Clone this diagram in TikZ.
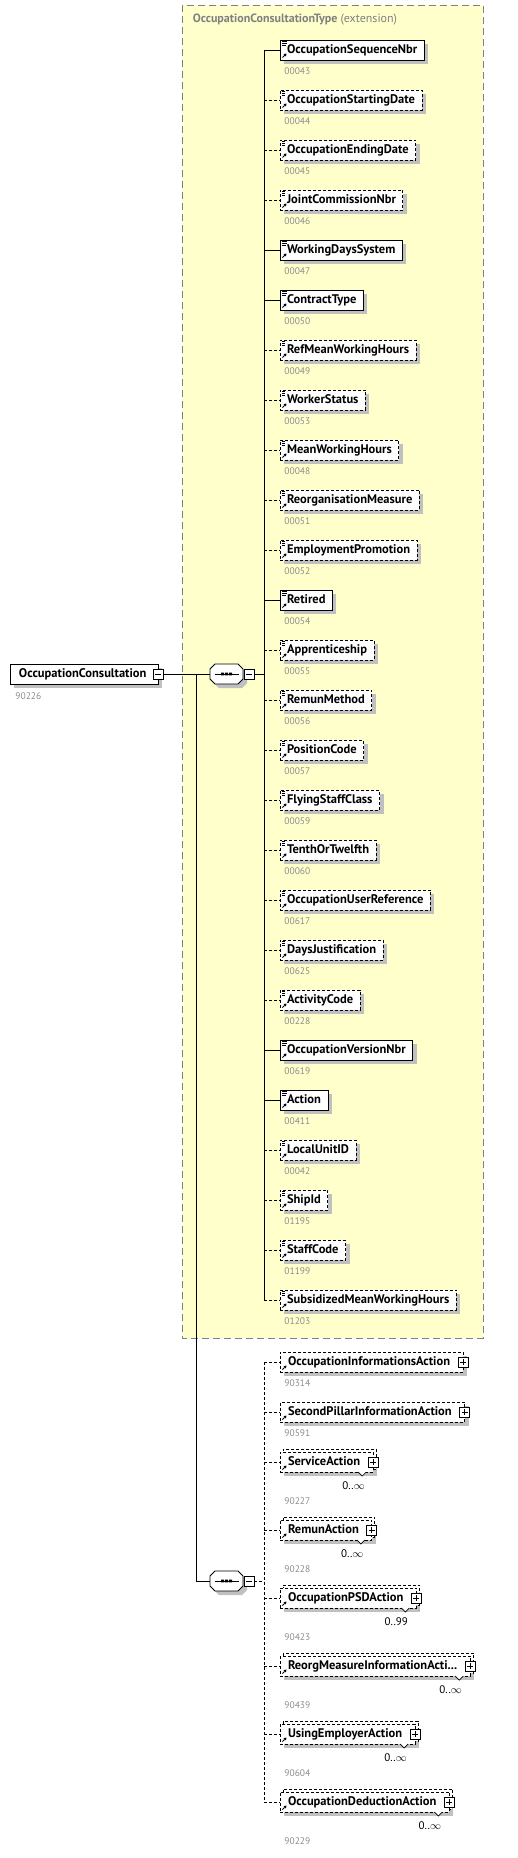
\documentclass[tikz,border=0pt]{standalone}
\usepackage{fontspec}
\setmainfont{PT Sans}
\usetikzlibrary{arrows.meta, positioning, shadows}

\definecolor{extfill}{RGB}{255,255,204}
\definecolor{extline}{RGB}{128,128,128}
\definecolor{shadowgray}{RGB}{192,192,192}
\definecolor{idgray}{RGB}{140,140,140}

\begin{document}
\begin{tikzpicture}[
    x=1pt, y=1pt, line width=0.9pt,
    font=\fontsize{12.5}{14}\selectfont\bfseries,
    boxshadow/.style={drop shadow={shadow xshift=4pt, shadow yshift=-4pt,
        fill=shadowgray, opacity=1}},
    elem/.style={
        draw, fill=white, boxshadow, anchor=west,
        minimum height=20pt, inner xsep=7pt, inner ysep=0pt, outer sep=0pt,
        text height=9pt, text depth=3pt
    },
    opt/.style={dash pattern=on 3pt off 2pt},
    multi/.style={copy shadow={shadow xshift=3pt, shadow yshift=3pt,
        draw=black, fill=white, dash pattern=on 3pt off 2pt}},
    docs/.style={path picture={
        \draw[line width=.7pt]
            ([shift={(2,-1.5)}]path picture bounding box.north west) -- ++(5,0)
            ([shift={(2,-3.5)}]path picture bounding box.north west) -- ++(5,0)
            ([shift={(2,-5.5)}]path picture bounding box.north west) -- ++(4,0);
        \draw[-{Triangle[length=2.5pt, width=3pt]}, line width=.9pt]
            ([shift={(2.5,2.5)}]path picture bounding box.south west) -- ++(4,4);
    }},
    ref/.style={path picture={
        \draw[-{Triangle[length=2.5pt, width=3pt]}, line width=.9pt]
            ([shift={(2.5,2.5)}]path picture bounding box.south west) -- ++(4,4);
    }},
    idnum/.style={font=\fontsize{9.5}{10}\selectfont\mdseries, text=idgray,
        inner sep=0pt, anchor=west},
    card/.style={font=\fontsize{11}{12}\selectfont\mdseries,
        inner sep=0pt, anchor=east},
    notch/.style={fill=white, line width=.7pt},
    pmbtn/.style={draw, fill=white, line width=.8pt, minimum size=10pt,
        inner sep=0pt, outer sep=0pt},
    minusbtn/.style={pmbtn, path picture={\draw[line width=.8pt]
        ([xshift=2pt]path picture bounding box.west) --
        ([xshift=-2pt]path picture bounding box.east);}},
    plusbtn/.style={pmbtn, path picture={\draw[line width=.8pt]
        ([xshift=2pt]path picture bounding box.west) --
        ([xshift=-2pt]path picture bounding box.east)
        ([yshift=-2pt]path picture bounding box.north) --
        ([yshift=2pt]path picture bounding box.south);}},
    seqnode/.style={minimum width=33pt, minimum height=20pt, inner sep=0pt, outer sep=0pt},
    seqframe/.style={draw, fill=white, boxshadow, line width=.9pt},
    seqline/.style={line width=.9pt}
]
\useasboundingbox (0,0) rectangle (517,-1858);

% -- extension area --
\draw[fill=extfill, draw=extline, line width=.8pt, dash pattern=on 7pt off 4pt]
    (182,-5) rectangle (483,-1338);
\node[anchor=west, text=extline, font=\fontsize{12}{13}\selectfont] (exttitle)
    at (189,-20) {\textbf{OccupationConsultationType} (extension)};

% -- root element and compositors --
\node[elem, inner xsep=9pt] (occcons) at (10,-674) {OccupationConsultation\hspace*{3pt}};
\node[minusbtn] (occmin) at (occcons.east) {};
\node[idnum] (occid) at ([shift={(5,-12)}]occcons.south west) {90226};

\node[seqnode] (seq1) at (226.5,-674) {};
\draw[seqframe] ([xshift=5pt]seq1.north west) -- ++(23,0) -- ++(5,-5) -- ++(0,-10)
    -- ++(-5,-5) -- ++(-23,0) -- ++(-5,5) -- ++(0,10) -- cycle;
\draw[seqline] ([xshift=-12pt]seq1.center) -- ([xshift=12pt]seq1.center);
\fill ([shift={(-5.3,-1.4)}]seq1.center) rectangle ++(2.8,2.8) ++(1.2,-2.8)
    rectangle ++(2.8,2.8) ++(1.2,-2.8) rectangle ++(2.8,2.8);
\node[minusbtn, right=1pt of seq1] (seq1min) {};

\node[seqnode] (seq2) at (226.5,-1581) {};
\draw[seqframe] ([xshift=5pt]seq2.north west) -- ++(23,0) -- ++(5,-5) -- ++(0,-10)
    -- ++(-5,-5) -- ++(-23,0) -- ++(-5,5) -- ++(0,10) -- cycle;
\draw[seqline] ([xshift=-12pt]seq2.center) -- ([xshift=12pt]seq2.center);
\fill ([shift={(-5.3,-1.4)}]seq2.center) rectangle ++(2.8,2.8) ++(1.2,-2.8)
    rectangle ++(2.8,2.8) ++(1.2,-2.8) rectangle ++(2.8,2.8);
\node[minusbtn, right=1pt of seq2] (seq2min) {};

\coordinate (branch) at (196,-674);
\coordinate (trunkA) at (264,-674);
\coordinate (trunkB) at (264,-1581);

% -- children of the extension --
\node[elem, docs] (e1) at (280,-50) {OccupationSequenceNbr};
\node[elem, opt, docs, below=30pt of e1.south west, anchor=north west] (e2) {OccupationStartingDate};
\node[elem, opt, docs, below=30pt of e2.south west, anchor=north west] (e3) {OccupationEndingDate};
\node[elem, opt, docs, below=30pt of e3.south west, anchor=north west] (e4) {JointCommissionNbr};
\node[elem, docs, below=30pt of e4.south west, anchor=north west] (e5) {WorkingDaysSystem};
\node[elem, docs, below=30pt of e5.south west, anchor=north west] (e6) {ContractType};
\node[elem, opt, docs, below=30pt of e6.south west, anchor=north west] (e7) {RefMeanWorkingHours};
\node[elem, opt, docs, below=30pt of e7.south west, anchor=north west] (e8) {WorkerStatus};
\node[elem, opt, docs, below=30pt of e8.south west, anchor=north west] (e9) {MeanWorkingHours};
\node[elem, opt, docs, below=30pt of e9.south west, anchor=north west] (e10) {ReorganisationMeasure};
\node[elem, opt, docs, below=30pt of e10.south west, anchor=north west] (e11) {EmploymentPromotion};
\node[elem, docs, below=30pt of e11.south west, anchor=north west] (e12) {Retired};
\node[elem, opt, docs, below=30pt of e12.south west, anchor=north west] (e13) {Apprenticeship};
\node[elem, opt, docs, below=30pt of e13.south west, anchor=north west] (e14) {RemunMethod};
\node[elem, opt, docs, below=30pt of e14.south west, anchor=north west] (e15) {PositionCode};
\node[elem, opt, docs, below=30pt of e15.south west, anchor=north west] (e16) {FlyingStaffClass};
\node[elem, opt, docs, below=30pt of e16.south west, anchor=north west] (e17) {TenthOrTwelfth};
\node[elem, opt, docs, below=30pt of e17.south west, anchor=north west] (e18) {OccupationUserReference};
\node[elem, opt, docs, below=30pt of e18.south west, anchor=north west] (e19) {DaysJustification};
\node[elem, opt, docs, below=30pt of e19.south west, anchor=north west] (e20) {ActivityCode};
\node[elem, docs, below=30pt of e20.south west, anchor=north west] (e21) {OccupationVersionNbr};
\node[elem, docs, below=30pt of e21.south west, anchor=north west] (e22) {Action};
\node[elem, opt, docs, below=30pt of e22.south west, anchor=north west] (e23) {LocalUnitID};
\node[elem, opt, docs, below=30pt of e23.south west, anchor=north west] (e24) {ShipId};
\node[elem, opt, docs, below=30pt of e24.south west, anchor=north west] (e25) {StaffCode};
\node[elem, opt, docs, below=30pt of e25.south west, anchor=north west] (e26) {SubsidizedMeanWorkingHours};

\node[idnum] (i1) at ([shift={(4,-11)}]e1.south west) {00043};
\node[idnum] (i2) at ([shift={(4,-11)}]e2.south west) {00044};
\node[idnum] (i3) at ([shift={(4,-11)}]e3.south west) {00045};
\node[idnum] (i4) at ([shift={(4,-11)}]e4.south west) {00046};
\node[idnum] (i5) at ([shift={(4,-11)}]e5.south west) {00047};
\node[idnum] (i6) at ([shift={(4,-11)}]e6.south west) {00050};
\node[idnum] (i7) at ([shift={(4,-11)}]e7.south west) {00049};
\node[idnum] (i8) at ([shift={(4,-11)}]e8.south west) {00053};
\node[idnum] (i9) at ([shift={(4,-11)}]e9.south west) {00048};
\node[idnum] (i10) at ([shift={(4,-11)}]e10.south west) {00051};
\node[idnum] (i11) at ([shift={(4,-11)}]e11.south west) {00052};
\node[idnum] (i12) at ([shift={(4,-11)}]e12.south west) {00054};
\node[idnum] (i13) at ([shift={(4,-11)}]e13.south west) {00055};
\node[idnum] (i14) at ([shift={(4,-11)}]e14.south west) {00056};
\node[idnum] (i15) at ([shift={(4,-11)}]e15.south west) {00057};
\node[idnum] (i16) at ([shift={(4,-11)}]e16.south west) {00059};
\node[idnum] (i17) at ([shift={(4,-11)}]e17.south west) {00060};
\node[idnum] (i18) at ([shift={(4,-11)}]e18.south west) {00617};
\node[idnum] (i19) at ([shift={(4,-11)}]e19.south west) {00625};
\node[idnum] (i20) at ([shift={(4,-11)}]e20.south west) {00228};
\node[idnum] (i21) at ([shift={(4,-11)}]e21.south west) {00619};
\node[idnum] (i22) at ([shift={(4,-11)}]e22.south west) {00411};
\node[idnum] (i23) at ([shift={(4,-11)}]e23.south west) {00042};
\node[idnum] (i24) at ([shift={(4,-11)}]e24.south west) {01195};
\node[idnum] (i25) at ([shift={(4,-11)}]e25.south west) {01199};
\node[idnum] (i26) at ([shift={(4,-11)}]e26.south west) {01203};

% -- optional actions --
\node[elem, opt, ref, inner xsep=8pt] (a1) at (280,-1362) {OccupationInformationsAction\hspace*{5pt}};
\node[elem, opt, ref, inner xsep=8pt, below=30pt of a1.south west, anchor=north west] (a2) {SecondPillarInformationAction\hspace*{5pt}};
\node[elem, opt, ref, multi, inner xsep=8pt, below=30pt of a2.south west, anchor=north west] (a3) {ServiceAction\hspace*{5pt}};
\node[elem, opt, ref, multi, inner xsep=8pt, below=48pt of a3.south west, anchor=north west] (a4) {RemunAction\hspace*{5pt}};
\node[elem, opt, ref, multi, inner xsep=8pt, below=48pt of a4.south west, anchor=north west] (a5) {OccupationPSDAction\hspace*{5pt}};
\node[elem, opt, ref, multi, inner xsep=8pt, below=48pt of a5.south west, anchor=north west] (a6) {ReorgMeasureInformationActi...\hspace*{5pt}};
\node[elem, opt, ref, multi, inner xsep=8pt, below=48pt of a6.south west, anchor=north west] (a7) {UsingEmployerAction\hspace*{5pt}};
\node[elem, opt, ref, multi, inner xsep=8pt, below=48pt of a7.south west, anchor=north west] (a8) {OccupationDeductionAction\hspace*{5pt}};

\node[plusbtn] (a1p) at (a1.east) {};
\node[plusbtn] (a2p) at (a2.east) {};
\node[plusbtn] (a3p) at (a3.east) {};
\node[plusbtn] (a4p) at (a4.east) {};
\node[plusbtn] (a5p) at (a5.east) {};
\node[plusbtn] (a6p) at (a6.east) {};
\node[plusbtn] (a7p) at (a7.east) {};
\node[plusbtn] (a8p) at (a8.east) {};

\draw[notch] ([xshift=-15pt]a3.south east) -- ++(4,-4) -- ++(4,4);
\draw[notch] ([xshift=-15pt]a4.south east) -- ++(4,-4) -- ++(4,4);
\draw[notch] ([xshift=-15pt]a5.south east) -- ++(4,-4) -- ++(4,4);
\draw[notch] ([xshift=-15pt]a6.south east) -- ++(4,-4) -- ++(4,4);
\draw[notch] ([xshift=-15pt]a7.south east) -- ++(4,-4) -- ++(4,4);
\draw[notch] ([xshift=-15pt]a8.south east) -- ++(4,-4) -- ++(4,4);

\node[card] (a3m) at ([shift={(-8,-13.5)}]a3.south east) {0..$\infty$};
\node[card] (a4m) at ([shift={(-8,-13.5)}]a4.south east) {0..$\infty$};
\node[card] (a5m) at ([shift={(-8,-13.5)}]a5.south east) {0..99};
\node[card] (a6m) at ([shift={(-8,-13.5)}]a6.south east) {0..$\infty$};
\node[card] (a7m) at ([shift={(-8,-13.5)}]a7.south east) {0..$\infty$};
\node[card] (a8m) at ([shift={(-8,-13.5)}]a8.south east) {0..$\infty$};

\node[idnum] (a1i) at ([shift={(4,-11)}]a1.south west) {90314};
\node[idnum] (a2i) at ([shift={(4,-11)}]a2.south west) {90591};
\node[idnum] (a3i) at ([shift={(4,-29)}]a3.south west) {90227};
\node[idnum] (a4i) at ([shift={(4,-29)}]a4.south west) {90228};
\node[idnum] (a5i) at ([shift={(4,-29)}]a5.south west) {90423};
\node[idnum] (a6i) at ([shift={(4,-29)}]a6.south west) {90439};
\node[idnum] (a7i) at ([shift={(4,-29)}]a7.south west) {90604};
\node[idnum] (a8i) at ([shift={(4,-29)}]a8.south west) {90229};

% -- connectors --
\draw (occmin.east) -- (seq1.west);
\draw (branch) |- (seq2.west);
\draw (seq1min.east) -- (trunkA);
\draw[opt] (seq2min.east) -- (trunkB);

\draw (e1.west -| trunkA) -- (e26.west -| trunkA);
\draw (e1.west -| trunkA) -- (e1.west) (e5.west -| trunkA) -- (e5.west)
      (e6.west -| trunkA) -- (e6.west) (e12.west -| trunkA) -- (e12.west)
      (e21.west -| trunkA) -- (e21.west) (e22.west -| trunkA) -- (e22.west);
\draw[opt] (e2.west -| trunkA) -- (e2.west) (e3.west -| trunkA) -- (e3.west)
      (e4.west -| trunkA) -- (e4.west) (e7.west -| trunkA) -- (e7.west)
      (e8.west -| trunkA) -- (e8.west) (e9.west -| trunkA) -- (e9.west)
      (e10.west -| trunkA) -- (e10.west) (e11.west -| trunkA) -- (e11.west)
      (e13.west -| trunkA) -- (e13.west) (e14.west -| trunkA) -- (e14.west)
      (e15.west -| trunkA) -- (e15.west) (e16.west -| trunkA) -- (e16.west)
      (e17.west -| trunkA) -- (e17.west) (e18.west -| trunkA) -- (e18.west)
      (e19.west -| trunkA) -- (e19.west) (e20.west -| trunkA) -- (e20.west)
      (e23.west -| trunkA) -- (e23.west) (e24.west -| trunkA) -- (e24.west)
      (e25.west -| trunkA) -- (e25.west) (e26.west -| trunkA) -- (e26.west);

\draw[opt] (a1.west -| trunkB) -- (a8.west -| trunkB);
\draw[opt] (a1.west -| trunkB) -- (a1.west) (a2.west -| trunkB) -- (a2.west)
      (a3.west -| trunkB) -- (a3.west) (a4.west -| trunkB) -- (a4.west)
      (a5.west -| trunkB) -- (a5.west) (a6.west -| trunkB) -- (a6.west)
      (a7.west -| trunkB) -- (a7.west) (a8.west -| trunkB) -- (a8.west);

\end{tikzpicture}
\end{document}
